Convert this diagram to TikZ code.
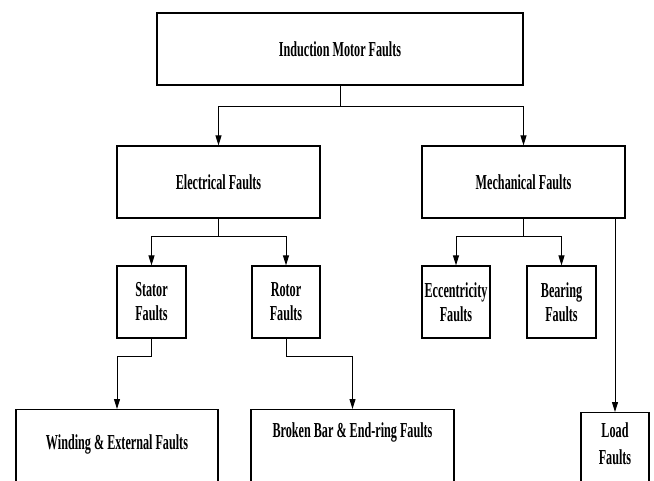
\documentclass[tikz,border=0pt]{standalone}
\usepackage{fontspec}
\setmainfont{Liberation Serif}[FakeStretch=0.57]
\usetikzlibrary{arrows.meta}
\begin{document}
\begin{tikzpicture}[x=0.75pt, y=-0.75pt,
                    every node/.style={draw, rectangle, line width=0.9pt, align=center,
                      inner sep=2pt, font=\fontsize{16}{18}\selectfont\bfseries},
                    box/.style 2 args={minimum width=#1*0.75pt, minimum height=#2*0.75pt},
                    cutbox/.style 2 args={anchor=north, minimum width=#1*0.75pt,
                      inner ysep=0pt, text height=#2*0.75pt, text depth=45pt},
                    >={Triangle[length=7.5pt, width=4.5pt]}, line width=0.75pt]
\useasboundingbox (0,0) rectangle (654,480);
\clip (0,0) rectangle (654,480);
\node[box={366}{72}] (imf) at (340,49) {Induction Motor Faults};
\node[box={203}{72}] (elec) at (218.5,182) {Electrical Faults};
\node[box={203}{72}] (mech) at (523.5,182) {Mechanical Faults};
\node[box={69}{72}] (stator) at (151.5,302) {Stator\\Faults};
\node[box={68}{72}] (rotor) at (286,302) {Rotor\\Faults};
\node[box={68}{72}] (ecc) at (456,302) {Eccentricity\\Faults};
\node[box={69}{72}] (bear) at (561.5,302) {Bearing\\Faults};
\node[cutbox={202}{40}] (wind) at (117,409) {Winding \& External Faults};
\node[cutbox={203}{27.5}] (broken) at (352.5,409) {Broken Bar \& End-ring Faults};
\node[cutbox={68}{51.5}] (load) at (615,412) {Load\\[2pt]Faults};
\coordinate (j1) at (340,106);
\coordinate (j2) at (218.5,236);
\coordinate (j3) at (523.5,236);
\coordinate (j4) at (151.5,356);
\coordinate (j5) at (286,356);
\draw[->] (imf) -- (j1) -| (elec);
\draw[->] (j1) -| (mech);
\draw[->] (elec) -- (j2) -| (stator);
\draw[->] (j2) -| (rotor);
\draw[->] (mech) -- (j3) -| (ecc);
\draw[->] (j3) -| (bear);
\draw[->] (stator) -- (j4) -| (wind);
\draw[->] (rotor) -- (j5) -| (broken);
\draw[->] (mech.south -| load) -- (load);
\end{tikzpicture}
\end{document}
